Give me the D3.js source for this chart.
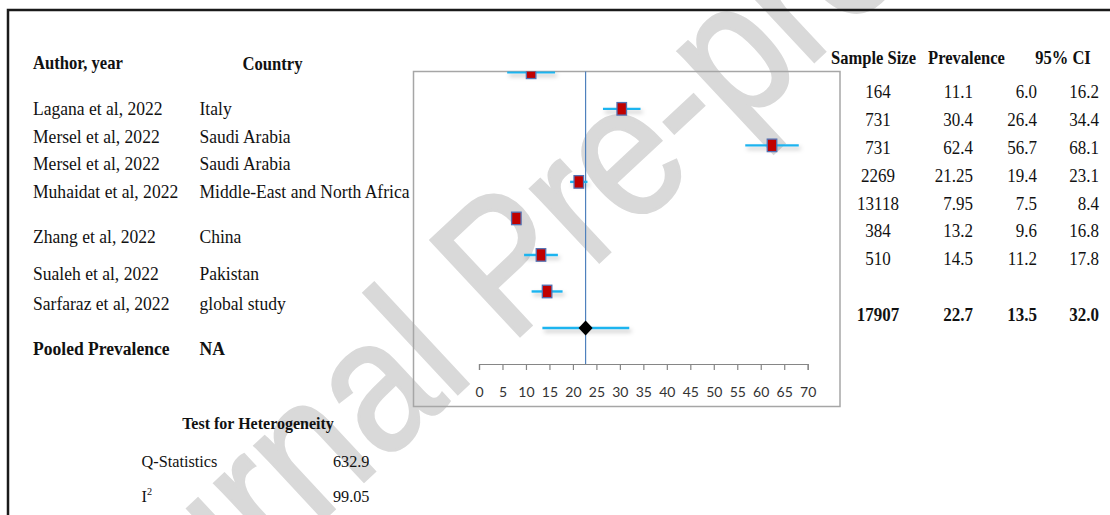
<!DOCTYPE html>
<html>
<head>
<meta charset="utf-8">
<script src="https://cdn.jsdelivr.net/npm/d3@7"></script>
<style>
  body { margin: 0; background: #fff; }
  svg { display: block; }
</style>
</head>
<body>
<div id="forest"></div>
<script>
// Study rows
var authors = ["Lagana et al, 2022", "Mersel et al, 2022", "Mersel et al, 2022", "Muhaidat et al, 2022",
               "Zhang et al, 2022", "Sualeh et al, 2022", "Sarfaraz et al, 2022"];
var countries = ["Italy", "Saudi Arabia", "Saudi Arabia", "Middle-East and North Africa",
                 "China", "Pakistan", "global study"];
var sampleSizes = [164, 731, 731, 2269, 13118, 384, 510];
var prevalences = [11.1, 30.4, 62.4, 21.25, 7.95, 13.2, 14.5];
var ciLow = [6.0, 26.4, 56.7, 19.4, 7.5, 9.6, 11.2];
var ciHigh = [16.2, 34.4, 68.1, 23.1, 8.4, 16.8, 17.8];

// Pooled estimate
var pooledN = 17907;
var pooledPrev = 22.7;
var pooledLow = 13.5;
var pooledHigh = 32.0;

// Heterogeneity
var qStatistic = 632.9;
var iSquared = 99.05;

// Axis ticks
var xTicks = [0, 5, 10, 15, 20, 25, 30, 35, 40, 45, 50, 55, 60, 65, 70];

var svgWidth = 1110;
var svgHeight = 515;

var svg = d3.select("#forest")
    .append("svg")
    .attr("width", svgWidth)
    .attr("height", svgHeight);

var defs = svg.append("defs");

// soft grey shadow under the whiskers (user space, lines have no height)
var shadow = defs.append("filter")
    .attr("id", "shadow")
    .attr("filterUnits", "userSpaceOnUse")
    .attr("x", 0).attr("y", 0)
    .attr("width", svgWidth).attr("height", svgHeight);
shadow.append("feDropShadow")
    .attr("dx", 2).attr("dy", 3)
    .attr("stdDeviation", 2)
    .attr("flood-color", "#000")
    .attr("flood-opacity", 0.25);

// plot frame (Excel chart area)
var frame = { left: 413.5, top: 71.5, right: 840, bottom: 406.5 };

defs.append("clipPath")
    .attr("id", "plotClip")
    .append("rect")
    .attr("x", frame.left)
    .attr("y", frame.top)
    .attr("width", frame.right - frame.left)
    .attr("height", frame.bottom - frame.top);

// watermark behind everything
svg.append("text")
    .attr("transform", "translate(80, 746) rotate(-43) scale(0.87, 1)")
    .attr("font-family", "'Liberation Sans', Arial, sans-serif")
    .attr("font-size", "190px")
    .attr("fill", "#d9d9d9")
    .attr("stroke", "#d9d9d9")
    .attr("stroke-width", 3)
    .text("Journal Pre-proof");

// outer page border
svg.append("rect")
    .attr("x", 8)
    .attr("y", 10)
    .attr("width", svgWidth + 20)
    .attr("height", svgHeight + 20)
    .attr("fill", "none")
    .attr("stroke", "#1a1a1a")
    .attr("stroke-width", 2.5);

svg.append("rect")
    .attr("x", frame.left)
    .attr("y", frame.top)
    .attr("width", frame.right - frame.left)
    .attr("height", frame.bottom - frame.top)
    .attr("fill", "none")
    .attr("stroke", "#a6a6a6")
    .attr("stroke-width", 1.5);

// scales
var xScale = d3.scaleLinear()
    .domain([0, 70])
    .range([479, 807.7]);

var rowScale = d3.scaleLinear()
    .domain([0, 7])
    .range([72.3, 328]);

var axisY = 364;

// bottom axis
var bottomAxis = d3.axisBottom(xScale)
    .tickValues(xTicks)
    .tickSize(6)
    .tickSizeOuter(6)
    .tickPadding(17);

var axisGroup = svg.append("g")
    .attr("transform", "translate(0, " + axisY + ")")
    .call(bottomAxis);

axisGroup.select(".domain").attr("stroke", "#868686").attr("stroke-width", 1.2);
axisGroup.selectAll(".tick line").attr("stroke", "#868686").attr("stroke-width", 1.2);
axisGroup.selectAll(".tick text")
    .attr("font-family", "Lato, 'Open Sans', sans-serif")
    .attr("font-size", "14px")
    .attr("fill", "#333");

// pooled reference line
svg.append("line")
    .attr("x1", xScale(pooledPrev))
    .attr("x2", xScale(pooledPrev))
    .attr("y1", frame.top)
    .attr("y2", axisY)
    .attr("stroke", "#4f81bd")
    .attr("stroke-width", 1.2);

var plot = svg.append("g").attr("clip-path", "url(#plotClip)");

var studyIdx = d3.range(prevalences.length);

// whiskers
plot.selectAll(".ci")
    .data(studyIdx)
    .enter()
    .append("line")
    .attr("class", "ci")
    .attr("x1", i => xScale(ciLow[i]))
    .attr("x2", i => xScale(ciHigh[i]))
    .attr("y1", i => rowScale(i))
    .attr("y2", i => rowScale(i))
    .attr("stroke", "#1fb4ef")
    .attr("stroke-width", 2.4)
    .attr("filter", "url(#shadow)");

// point estimates
var boxW = 9.5, boxH = 12.5;
plot.selectAll(".est")
    .data(studyIdx)
    .enter()
    .append("rect")
    .attr("class", "est")
    .attr("x", i => xScale(prevalences[i]) - boxW / 2)
    .attr("y", i => rowScale(i) - boxH / 2)
    .attr("width", boxW)
    .attr("height", boxH)
    .attr("fill", "#c00000")
    .attr("stroke", "#5372b4")
    .attr("stroke-width", 1.3);

// pooled whisker and diamond
var pooledY = rowScale(7);
plot.append("line")
    .attr("x1", xScale(pooledLow))
    .attr("x2", xScale(pooledHigh))
    .attr("y1", pooledY)
    .attr("y2", pooledY)
    .attr("stroke", "#1fb4ef")
    .attr("stroke-width", 2.4)
    .attr("filter", "url(#shadow)");

var px = xScale(pooledPrev);
plot.append("path")
    .attr("d", "M" + (px - 7) + "," + pooledY + "L" + px + "," + (pooledY - 7.5) +
               "L" + (px + 7) + "," + pooledY + "L" + px + "," + (pooledY + 7.5) + "Z")
    .attr("fill", "#000");

// helper for the squeezed Times-like text of the original
function addText(x, y, txt, opts) {
    opts = opts || {};
    return svg.append("text")
        .attr("transform", "translate(" + x + "," + y + ") scale(" + (opts.sx || 0.9) + ",1)")
        .attr("text-anchor", opts.anchor || "start")
        .attr("font-family", "'Liberation Serif', 'Times New Roman', serif")
        .attr("font-size", (opts.size || 19.5) + "px")
        .attr("font-weight", opts.bold ? "bold" : "normal")
        .attr("fill", "#111")
        .text(txt);
}

// left table
addText(33, 68.5, "Author, year", { bold: true, size: 18.5 });
addText(272.5, 70, "Country", { bold: true, size: 18.5, anchor: "middle" });

var leftRowY = [115, 142.7, 170, 198.3, 242.7, 280, 310];
authors.forEach(function(a, i) { addText(33, leftRowY[i], a); });
countries.forEach(function(c, i) { addText(199.5, leftRowY[i], c); });

addText(33, 355, "Pooled Prevalence", { bold: true });
addText(199.5, 355, "NA", { bold: true });

// right table
var hdr = { bold: true, size: 18, sx: 0.92, anchor: "middle" };
addText(873.5, 63.5, "Sample Size", hdr);
addText(966.5, 63.5, "Prevalence", hdr);
addText(1063, 63.5, "95% CI", hdr);

var tableRow = d3.scaleLinear().domain([0, 1]).range([98.3, 126.1]);
var f1 = d3.format(".1f");
var num = { size: 18.5, sx: 0.92, anchor: "end" };
var numMid = { size: 18.5, sx: 0.92, anchor: "middle" };

studyIdx.forEach(function(i) {
    var y = tableRow(i);
    addText(878, y, sampleSizes[i], numMid);
    addText(973, y, String(prevalences[i]), num);
    addText(1037, y, f1(ciLow[i]), num);
    addText(1099, y, f1(ciHigh[i]), num);
});

var totalY = tableRow(8);
var numB = { size: 18.5, sx: 0.92, anchor: "end", bold: true };
addText(878, totalY, pooledN, { size: 18.5, sx: 0.92, anchor: "middle", bold: true });
addText(973, totalY, f1(pooledPrev), numB);
addText(1037, totalY, f1(pooledLow), numB);
addText(1099, totalY, f1(pooledHigh), numB);

// heterogeneity block
addText(258, 428.5, "Test for Heterogeneity", { bold: true, size: 17.5, sx: 0.915, anchor: "middle" });
addText(141.5, 466.5, "Q-Statistics", { size: 17.5, sx: 0.93 });
addText(369.5, 466.5, String(qStatistic), { size: 17.5, sx: 0.93, anchor: "end" });

var i2 = addText(141.5, 501.5, "I", { size: 17.5, sx: 0.93 });
i2.append("tspan")
    .attr("font-size", "11px")
    .attr("dy", "-7")
    .text("2");
addText(369.5, 501.5, String(iSquared), { size: 17.5, sx: 0.93, anchor: "end" });
</script>
</body>
</html>
